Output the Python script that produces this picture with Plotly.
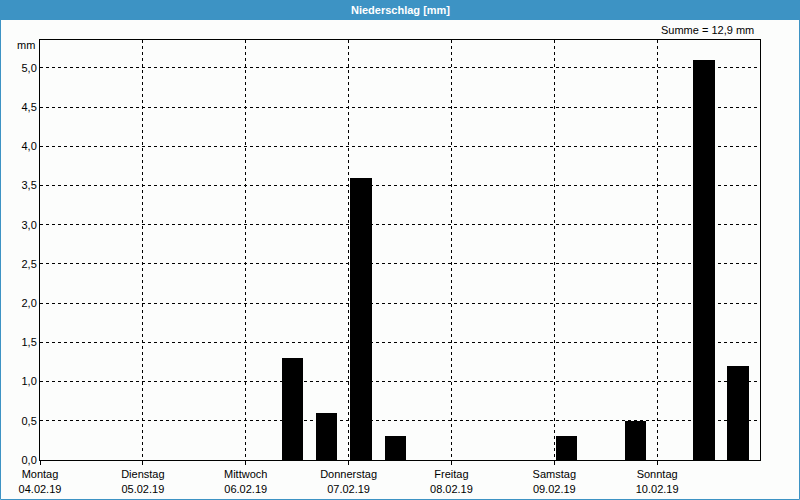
import plotly.graph_objects as go

day_names = ["Montag", "Dienstag", "Mittwoch", "Donnerstag", "Freitag", "Samstag", "Sonntag"]
day_dates = ["04.02.19", "05.02.19", "06.02.19", "07.02.19", "08.02.19", "09.02.19", "10.02.19"]
# bin start times in hours since Monday 00:00 (8-hour bins)
bin_start_h = [56, 64, 72, 80, 120, 136, 152, 160]
precip_mm = [1.3, 0.6, 3.6, 0.3, 0.3, 0.5, 5.1, 1.2]
total_mm = 12.9

W, H = 800, 500
L, R, T, B = 40, 40, 40, 40
pw, ph = W - L - R, H - T - B

def px(x):
    return (x - L) / pw

def py(y):
    return (H - B - y) / ph

fig = go.Figure()
fig.add_trace(go.Bar(
    x=bin_start_h, y=precip_mm, offset=0.4, width=5,
    marker=dict(color="#000000", line=dict(width=0)),
    hoverinfo="skip",
))

font = dict(family="Liberation Sans, DejaVu Sans, sans-serif", size=11, color="#000000")

fig.update_layout(
    width=W, height=H,
    margin=dict(l=L, r=R, t=T, b=B, pad=0, autoexpand=False),
    paper_bgcolor="#fcfdfc", plot_bgcolor="#fcfdfc",
    showlegend=False,
    separators=",.",
    font=font,
    bargap=0,
    xaxis=dict(
        range=[0, 168], tickmode="array",
        tickvals=[24 * i for i in range(7)],
        ticktext=[f"{n}<br>{d}" for n, d in zip(day_names, day_dates)],
        showgrid=True, gridcolor="#000000", griddash="3px,3px", gridwidth=1,
        showline=True, linecolor="#000000", linewidth=1, mirror=True,
        ticks="outside", ticklen=4, tickcolor="#000000",
        zeroline=False, fixedrange=True, automargin=False,
    ),
    yaxis=dict(
        range=[0, 5.355], tickmode="array",
        tickvals=[0.5 * i for i in range(11)],
        tickformat=".1f",
        showgrid=True, gridcolor="#000000", griddash="3px,3px", gridwidth=1,
        showline=True, linecolor="#000000", linewidth=1, mirror=True,
        ticks="", zeroline=False, fixedrange=True, automargin=False,
    ),
    shapes=[
        dict(type="rect", xref="paper", yref="paper",
             x0=px(0), x1=px(800), y0=py(20), y1=py(0),
             fillcolor="#3d93c4", line=dict(width=0), layer="above"),
        dict(type="rect", xref="paper", yref="paper",
             x0=px(0.5), x1=px(799.5), y0=py(499.5), y1=py(0.5),
             fillcolor="rgba(0,0,0,0)", line=dict(color="#3d93c4", width=1), layer="above"),
    ],
    annotations=[
        dict(text="<b>Niederschlag [mm]</b>", xref="paper", yref="paper",
             x=px(400), y=py(10), xanchor="center", yanchor="middle",
             showarrow=False, font=dict(family=font["family"], size=11, color="#ffffff")),
        dict(text=f"Summe = {str(total_mm).replace('.', ',')} mm", xref="paper", yref="paper",
             x=px(756), y=py(30), xanchor="right", yanchor="middle",
             showarrow=False, font=font),
        dict(text="mm", xref="paper", yref="paper",
             x=px(37), y=py(45), xanchor="right", yanchor="middle",
             showarrow=False, font=font),
    ],
)

fig.write_html("out.html")
